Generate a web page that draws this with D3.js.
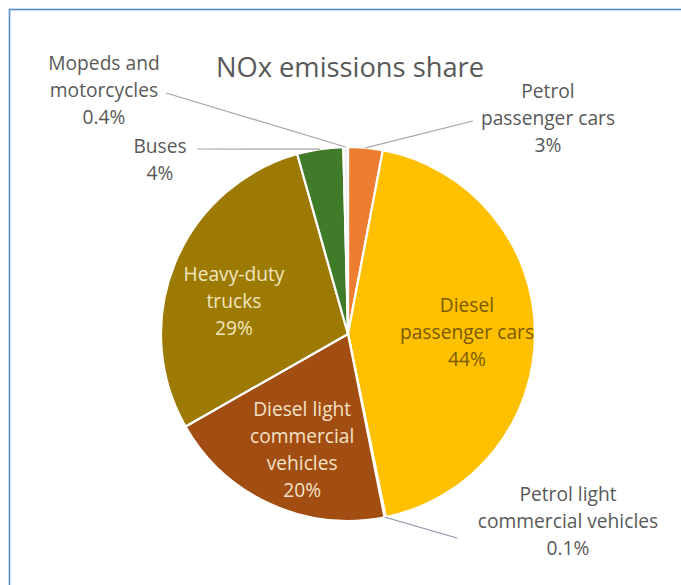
<!DOCTYPE html>
<html>
<head>
<meta charset="utf-8">
<script src="https://cdn.jsdelivr.net/npm/d3@7"></script>
<style>
  html, body { margin: 0; padding: 0; background: #fff; }
  svg { display: block; }
  text { font-family: "Open Sans", Lato, sans-serif; }
</style>
</head>
<body>
<svg id="chart" width="681" height="585"></svg>
<script>
// NOx emissions share by vehicle category (%), clockwise from 12 o'clock
const categories = [
  "Petrol passenger cars",
  "Diesel passenger cars",
  "Petrol light commercial vehicles",
  "Diesel light commercial vehicles",
  "Heavy-duty trucks",
  "Buses",
  "Mopeds and motorcycles"
];
const shares = [3, 44, 0.1, 20, 29, 4, 0.4];
const shareLabels = ["3%", "44%", "0.1%", "20%", "29%", "4%", "0.4%"];
// label text broken into lines as displayed
const labelLines = [
  ["Petrol", "passenger cars"],
  ["Diesel", "passenger cars"],
  ["Petrol light", "commercial vehicles"],
  ["Diesel light", "commercial", "vehicles"],
  ["Heavy-duty", "trucks"],
  ["Buses"],
  ["Mopeds and", "motorcycles"]
];
const title = "NOx emissions share";

// ---- styling / layout ----
const colors = ["#ED7D31", "#FFC000", "#d0d0d0", "#A24D12", "#9C7A04", "#3F7B29", "#ededed"];
const width = 681, height = 585;
const cx = 348, cy = 334, R = 187;
const lineH = 27;
const labelSize = 19.2;

// inside labels: text colour and nudge from the centroid
const inside = {
  1: { fill: "#7a5a00", dx: -1, dy: -1 },
  3: { fill: "#F2E3C8", dx: 4, dy: 6 },
  4: { fill: "#F1E6BE", dx: -3, dy: 13 }
};
// outside labels: centre of the text block and where its leader starts
const outside = {
  0: { x: 548, y: 118, lx: 473, ly: 121 },
  2: { x: 568, y: 521, lx: 457, ly: 538 },
  5: { x: 160, y: 159, lx: 197, ly: 149 },
  6: { x: 104, y: 90, lx: 166, ly: 93 }
};

const svg = d3.select("#chart");

// frame
svg.append("rect")
  .attr("x", 9.5).attr("y", 9.5)
  .attr("width", width + 20).attr("height", height + 20)
  .attr("fill", "#fff")
  .attr("stroke", "#5B8ED6").attr("stroke-width", 1.6);

svg.append("text")
  .attr("x", 350).attr("y", 77)
  .attr("text-anchor", "middle")
  .attr("font-size", 27.3)
  .attr("fill", "#595959")
  .text(title);

const pie = d3.pie().sort(null).value(d => d)(shares);
const arc = d3.arc().innerRadius(0).outerRadius(R);
const labelArc = d3.arc().innerRadius(120).outerRadius(120);

const g = svg.append("g").attr("transform", `translate(${cx},${cy})`);

g.selectAll("path.slice")
  .data(pie)
  .join("path")
  .attr("class", "slice")
  .attr("d", arc)
  .attr("fill", (d, i) => colors[i])
  .attr("stroke", "#fff")
  .attr("stroke-width", 2.2)
  .attr("stroke-linejoin", "round");

// leader lines for small slices
Object.entries(outside).forEach(([k, o]) => {
  const d = pie[+k];
  const a = (d.startAngle + d.endAngle) / 2;
  const px = cx + R * Math.sin(a), py = cy - R * Math.cos(a);
  svg.append("line")
    .attr("x1", o.lx).attr("y1", o.ly)
    .attr("x2", px).attr("y2", py)
    .attr("stroke", k === "2" ? "#8a94a6" : "#a6a6a6")
    .attr("stroke-width", 1.2);
});

function drawBlock(x, y, lines, fill) {
  const n = lines.length;
  const t = svg.append("text")
    .attr("text-anchor", "middle")
    .attr("font-size", labelSize)
    .attr("fill", fill);
  lines.forEach((s, j) => {
    t.append("tspan")
      .attr("x", x)
      .attr("y", y + (j - (n - 1) / 2) * lineH + 7)
      .text(s);
  });
}

pie.forEach((d, i) => {
  const lines = labelLines[i].concat([shareLabels[i]]);
  if (inside[i]) {
    const [x, y] = labelArc.centroid(d);
    drawBlock(cx + x + inside[i].dx, cy + y + inside[i].dy, lines, inside[i].fill);
  } else {
    const o = outside[i];
    drawBlock(o.x, o.y, lines, "#595959");
  }
});
</script>
</body>
</html>
